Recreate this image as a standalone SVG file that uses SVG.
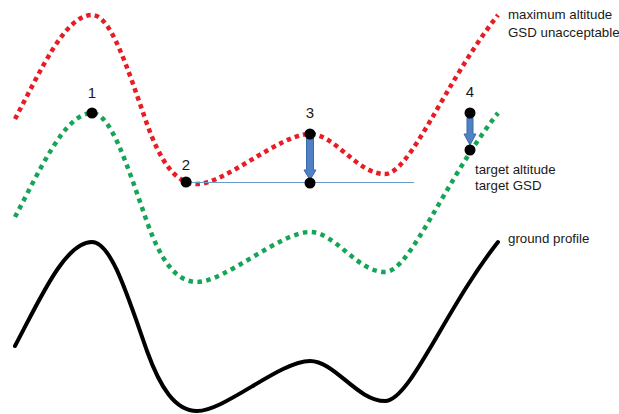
<svg xmlns="http://www.w3.org/2000/svg" width="619" height="414" viewBox="0 0 619 414">
<style>
.lbl{font-family:"Liberation Sans",Arial,sans-serif;font-size:13.3px;fill:#1a1a1a}
.num{font-family:"Liberation Sans",Arial,sans-serif;font-size:15px;fill:#1a1a1a;text-anchor:middle}
.red{fill:none;stroke:#e81c24;stroke-width:4.5;stroke-dasharray:4.5 4}
.green{fill:none;stroke:#16a457;stroke-width:4.5;stroke-dasharray:4.5 4.5}
.ground{fill:none;stroke:#000;stroke-width:4;stroke-linecap:round}
.dot{fill:#000}
.arrow{fill:#4f81c4;stroke:#3a6aa8;stroke-width:1}
</style>
<defs>
<path id="profile" d="M15,217 C40,170 65,113 92,113 C111,113 127,165 147,222 C160,258 175,282 197,282 C225,282 280,232 310,232 C335,232 357,272 385,272 C410,272 445,180 498,113"/>
</defs>
<g id="connectors">
<use href="#profile" class="red" transform="translate(0,-98)"/>
<use href="#profile" class="green"/>
<use href="#profile" class="ground" transform="translate(0,129)"/>
<line x1="186" y1="182.5" x2="414" y2="182.5" stroke="#6a9cc9" stroke-width="1.2"/>
<path class="arrow" d="M306.5,137 H313.5 V170 H316 L310,180 L304,170 H306.5 Z"/>
<path class="arrow" d="M467,118 H473 V134 H476 L470,145 L464,134 H467 Z"/>
</g>
<g id="point1"><circle class="dot" cx="92" cy="113" r="5.5"/><text class="num" x="92" y="98">1</text></g>
<g id="point2"><circle class="dot" cx="186" cy="182" r="5.5"/><text class="num" x="186" y="170">2</text></g>
<g id="point3"><circle class="dot" cx="310" cy="134" r="5.5"/><circle class="dot" cx="310" cy="183" r="5.5"/><text class="num" x="310" y="118">3</text></g>
<g id="point4"><circle class="dot" cx="470" cy="113" r="5.5"/><circle class="dot" cx="470" cy="150" r="5.5"/><text class="num" x="470" y="97">4</text></g>
<g id="label-max"><text class="lbl" x="508" y="19">maximum altitude</text><text class="lbl" x="508" y="37">GSD unacceptable</text></g>
<g id="label-target"><text class="lbl" x="475" y="174">target altitude</text><text class="lbl" x="475" y="190">target GSD</text></g>
<g id="label-ground"><text class="lbl" x="508" y="243">ground profile</text></g>
</svg>
